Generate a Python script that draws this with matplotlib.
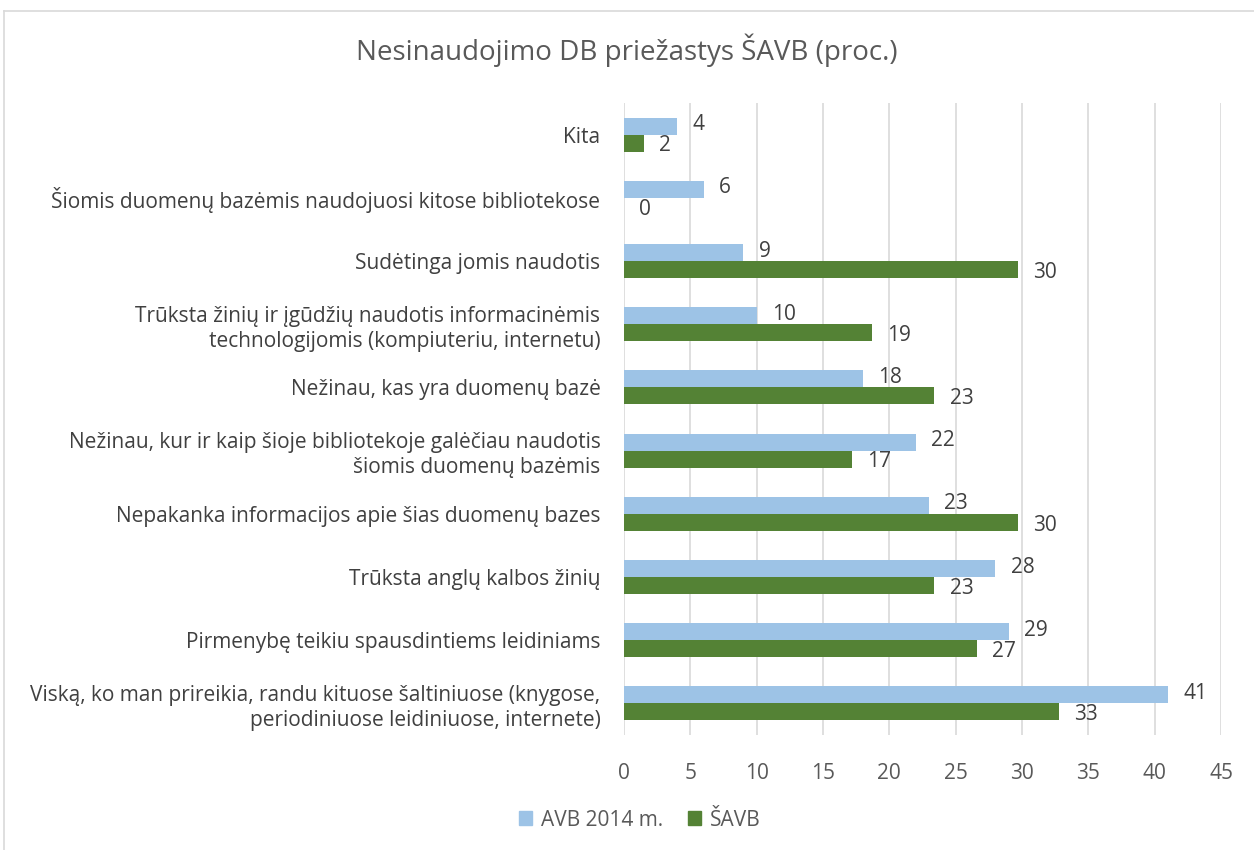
import numpy as np
import matplotlib.pyplot as plt
from matplotlib.lines import Line2D
from matplotlib.patches import Patch

plt.rcParams['font.family'] = ['Open Sans', 'DejaVu Sans']

# Data (bottom to top as drawn)
categories = [
    'Viską, ko man prireikia, randu kituose šaltiniuose (knygose,\nperiodiniuose leidiniuose, internete)',
    'Pirmenybę teikiu spausdintiems leidiniams',
    'Trūksta anglų kalbos žinių',
    'Nepakanka informacijos apie šias duomenų bazes',
    'Nežinau, kur ir kaip šioje bibliotekoje galėčiau naudotis\nšiomis duomenų bazėmis',
    'Nežinau, kas yra duomenų bazė',
    'Trūksta žinių ir įgūdžių naudotis informacinėmis\ntechnologijomis (kompiuteriu, internetu)',
    'Sudėtinga jomis naudotis',
    'Šiomis duomenų bazėmis naudojuosi kitose bibliotekose',
    'Kita',
]
avb_2014 = [41, 29, 28, 23, 22, 18, 10, 9, 6, 4]
savb = [32.8, 26.6, 23.4, 29.7, 17.2, 23.4, 18.7, 29.7, 0, 1.5]
series_names = ['AVB 2014 m.', 'ŠAVB']

blue = '#9DC3E6'
green = '#548235'
text_col = '#595959'
dark_text = '#404040'
grid_col = '#D9D9D9'
fs = 15

fig = plt.figure(figsize=(12.54, 8.5), dpi=100)
ax = fig.add_axes([624 / 1254, 1 - 735 / 850, (1221 - 624) / 1254, (735 - 103) / 850])

y = np.arange(len(categories))
h = 0.27
ax.barh(y + h / 2, avb_2014, height=h, color=blue, label=series_names[0])
ax.barh(y - h / 2, savb, height=h, color=green, label=series_names[1])

for yi, v in zip(y, avb_2014):
    ax.annotate(f'{v:.0f}', xy=(v, yi + h / 2), xytext=(11, 1), textcoords='offset points',
                va='center', ha='left', fontsize=fs, color=dark_text)
for yi, v in zip(y, savb):
    ax.annotate(f'{round(v):.0f}', xy=(v, yi - h / 2), xytext=(11, -2), textcoords='offset points',
                va='center', ha='left', fontsize=fs, color=dark_text)

ax.set_xlim(0, 45)
ax.set_ylim(-0.5, len(categories) - 0.5)
ax.set_xticks(np.arange(0, 46, 5))
ax.set_yticks(y)
ax.set_yticklabels(categories, fontsize=fs, color=dark_text, linespacing=1.25)
ax.tick_params(axis='y', length=0, pad=17)
ax.tick_params(axis='x', length=0, pad=20, labelsize=fs, labelcolor=text_col)
ax.grid(axis='x', color=grid_col, linewidth=1.2)
ax.set_axisbelow(True)
for s in ax.spines.values():
    s.set_visible(False)

fig.suptitle('Nesinaudojimo DB priežastys ŠAVB (proc.)', y=1 - 50 / 850, va='center',
             fontsize=20, color=text_col)

handles = [Patch(color=blue), Patch(color=green)]
fig.legend(handles, series_names, loc='center', bbox_to_anchor=(0.51, 1 - 820 / 850), ncol=2,
           frameon=False, fontsize=fs, labelcolor=text_col, handlelength=0.65, handleheight=0.65,
           columnspacing=1.2, handletextpad=0.4)

# chart border
fig.add_artist(Line2D([4 / 1254, 4 / 1254], [0, 1 - 11 / 850], color=grid_col, lw=1.2))
fig.add_artist(Line2D([4 / 1254, 1], [1 - 11 / 850, 1 - 11 / 850], color=grid_col, lw=1.2))

fig.savefig('out.png', dpi=100, facecolor='white')
